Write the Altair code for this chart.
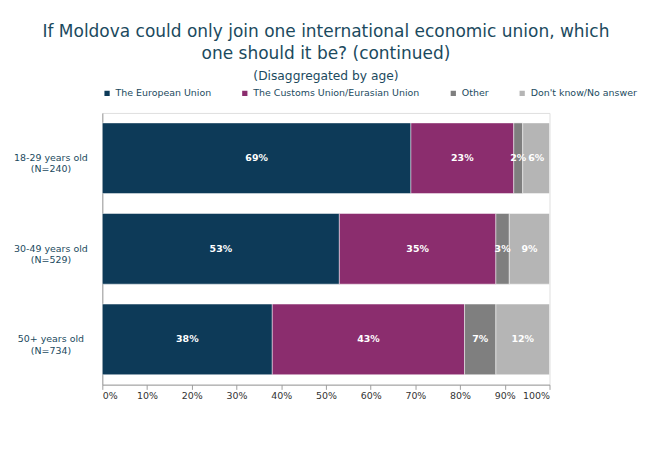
import altair as alt
import pandas as pd

groups = ["18-29 years old|(N=240)", "30-49 years old|(N=529)", "50+ years old|(N=734)"]
answers = ["The European Union", "The Customs Union/Eurasian Union", "Other", "Don't know/No answer"]
colors = ["#0d3a58", "#8b2d6e", "#7f7f7f", "#b5b5b5"]
values = [
    [69, 23, 2, 6],
    [53, 35, 3, 9],
    [38, 43, 7, 12],
]

rows = []
for g, vals in zip(groups, values):
    for i, (a, v) in enumerate(zip(answers, vals)):
        rows.append({"group": g, "answer": a, "value": v, "order": i})
df = pd.DataFrame(rows)

base = alt.Chart(df).transform_stack(
    stack="value", groupby=["group"], as_=["v0", "v1"],
    sort=[alt.SortField("order", order="ascending")]
).transform_calculate(
    v0p="datum.v0/100", v1p="datum.v1/100", mid="(datum.v0+datum.v1)/200",
    lbl="datum.value + '%'"
)

y = alt.Y("group:N", sort=groups, title=None,
          scale=alt.Scale(paddingInner=0.22, paddingOuter=0.11),
          axis=alt.Axis(labelExpr="split(datum.value, '|')", labelFont="DejaVu Sans",
                        labelFontSize=10, labelColor="#1b4a5e", ticks=False,
                        labelPadding=55, domainColor="#999", labelAlign="center",
                        labelLimit=200))

bars = base.mark_bar(stroke="white", strokeWidth=0.5).encode(
    y=y,
    x=alt.X("v0p:Q", scale=alt.Scale(domain=[0, 1]),
            axis=alt.Axis(format=".0%", values=[i / 10 for i in range(11)], grid=False,
                          labelFont="DejaVu Sans", labelFontSize=10, labelColor="#333",
                          tickColor="#999", domainColor="#999"), title=None),
    x2="v1p:Q",
    color=alt.Color("answer:N", sort=answers, scale=alt.Scale(domain=answers, range=colors),
                    legend=alt.Legend(orient="top", direction="horizontal", title=None,
                                      symbolType="square", symbolSize=50, labelFontSize=10,
                                      labelFont="DejaVu Sans", labelColor="#1b4a5e",
                                      columnPadding=28, offset=14, labelLimit=300)),
)

text = base.mark_text(color="white", fontWeight="bold", fontSize=10, font="DejaVu Sans").encode(
    y=alt.Y("group:N", sort=groups),
    x=alt.X("mid:Q"),
    text="lbl:N",
)

chart = (bars + text).properties(
    width=474, height=288,
    title=alt.TitleParams(
        ["If Moldova could only join one international economic union, which", "one should it be? (continued)"],
        subtitle="(Disaggregated by age)", anchor="middle", fontSize=18, font="DejaVu Sans",
        fontWeight="normal", color="#1b4a5e", subtitleFontSize=13, subtitleColor="#1b4a5e",
        subtitleFont="DejaVu Sans", subtitlePadding=8, lineHeight=23, offset=6),
).configure_view(stroke=None).configure(background="white")

chart.save("out.html", embed_options={"renderer": "svg", "actions": False})
